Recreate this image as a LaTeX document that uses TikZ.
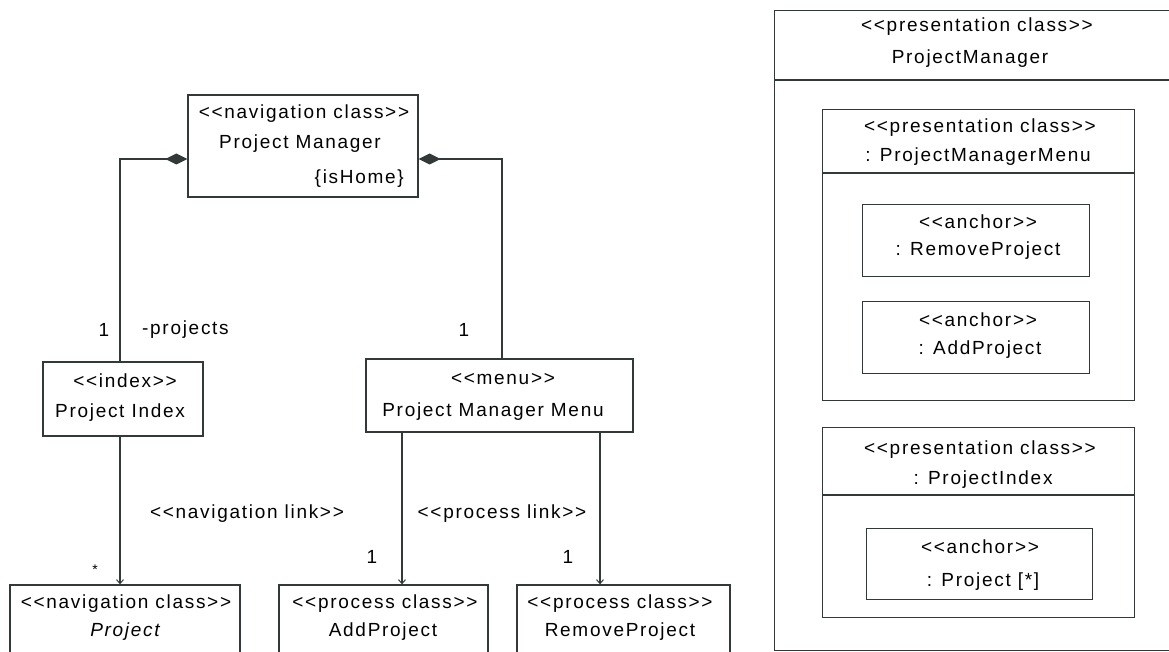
\documentclass[tikz,border=0pt]{standalone}
\usepackage{fontspec}
\setmainfont[LetterSpace=9, Ligatures=TeXOff]{Liberation Sans}
\usetikzlibrary{arrows.meta}
\definecolor{ink}{HTML}{333838}
\tikzset{
  box/.style={draw=ink, line width=1.3pt, rectangle, inner sep=0pt},
  txt/.style={inner sep=0pt, yshift=-2pt, font=\fontsize{19}{22}\selectfont, text=black},
  lbl/.style={inner sep=0pt, yshift=-2pt, font=\fontsize{19}{22}\selectfont, text=black},
  wire/.style={draw=ink, line width=1.3pt},
  comp/.style={wire, -{Diamond[length=22pt,width=11pt,fill=ink]}},
  link/.style={wire, -{Straight Barb[length=4pt,width=7pt,line width=1pt]}},
}
\begin{document}
\begin{tikzpicture}[x=1pt, y=-1pt]
\useasboundingbox (0,0) rectangle (1169,652);
\clip (0,0) rectangle (1169,652);

% ---------- navigation model ----------
\node[box, minimum width=230pt, minimum height=102pt] (pm) at (303,146) {};
\node[txt] (pmS) at (304,112) {<<navigation class>>};
\node[txt] (pmN) at (300,142) {Project Manager};
\node[txt, anchor=east] (pmT) at (404,177) {\{isHome\}};

\node[box, minimum width=160pt, minimum height=74pt] (idx) at (123,399) {};
\node[txt] (idxS) at (125,379) {<<index>>};
\node[txt] (idxN) at (120,411) {Project Index};

\node[box, minimum width=267pt, minimum height=73pt] (menu) at (499.5,395.5) {};
\node[txt] (menuS) at (503,377) {<<menu>>};
\node[txt] (menuN) at (493,410) {Project Manager Menu};

\node[box, minimum width=230pt, minimum height=100pt] (prj) at (125,635) {};
\node[txt] (prjS) at (126,602) {<<navigation class>>};
\node[txt] (prjN) at (125,630) {\itshape Project};

\node[box, minimum width=209pt, minimum height=100pt] (add) at (383.5,635) {};
\node[txt] (addS) at (385,602) {<<process class>>};
\node[txt] (addN) at (383,630) {AddProject};

\node[box, minimum width=213pt, minimum height=100pt] (rem) at (623.5,635) {};
\node[txt] (remS) at (620,602) {<<process class>>};
\node[txt] (remN) at (620,630) {RemoveProject};

% composition links to the home class
\draw[comp] ([xshift=-3pt]idx.north) |- ([yshift=-13pt]pm.west);
\draw[comp] ([xshift=2.5pt]menu.north) |- ([yshift=-13pt]pm.east);

% navigation and process links
\draw[link] (idx.south -| 120,0) -- (prj.north -| 120,0);
\draw[link] (menu.south -| 402,0) -- (add.north -| 402,0);
\draw[link] (menu.south -| 600,0) -- (rem.north -| 600,0);

% link labels and multiplicities
\node[lbl] (m1) at (104,328) {1};
\node[lbl, anchor=west] (role) at (142,328) {-projects};
\node[lbl] (m2) at (464,328) {1};
\node[lbl] (navlink) at (247,512) {<<navigation link>>};
\node[lbl] (proclink) at (502,512) {<<process link>>};
\node[lbl, font=\fontsize{14}{16}\selectfont] (m3) at (95,568) {*};
\node[lbl] (m4) at (372,555) {1};
\node[lbl] (m5) at (568,555) {1};

% ---------- presentation model ----------
\node[box, minimum width=420pt, minimum height=640pt, anchor=north west] (outer) at (774,10) {};
\coordinate (outerSep) at (774,80);
\draw[wire] (outerSep) -- ++(400,0);
\node[txt] (outS) at (977,25) {<<presentation class>>};
\node[txt] (outN) at (970,57) {ProjectManager};

\node[box, minimum width=312pt, minimum height=291pt, anchor=north west] (pmm) at (822,109) {};
\coordinate (pmmSep) at (822,173);
\draw[wire] (pmmSep) -- (pmmSep -| pmm.east);
\node[txt] (pmmS) at (980,126) {<<presentation class>>};
\node[txt] (pmmN) at (978,155) {: ProjectManagerMenu};

\node[box, minimum width=227pt, minimum height=72pt, anchor=north west] (a1) at (862,204) {};
\node[txt] (a1S) at (978,220) {<<anchor>>};
\node[txt] (a1N) at (978,249) {: RemoveProject};

\node[box, minimum width=227pt, minimum height=72pt, anchor=north west] (a2) at (862,301) {};
\node[txt] (a2S) at (978,318) {<<anchor>>};
\node[txt] (a2N) at (980,348) {: AddProject};

\node[box, minimum width=312pt, minimum height=190pt, anchor=north west] (pix) at (822,427) {};
\coordinate (pixSep) at (822,495);
\draw[wire] (pixSep) -- (pixSep -| pix.east);
\node[txt] (pixS) at (980,448) {<<presentation class>>};
\node[txt] (pixN) at (983,478) {: ProjectIndex};

\node[box, minimum width=226pt, minimum height=71pt, anchor=north west] (a3) at (866,528) {};
\node[txt] (a3S) at (980,545) {<<anchor>>};
\node[txt] (a3N) at (983,580) {: Project [*]};
\end{tikzpicture}
\end{document}
